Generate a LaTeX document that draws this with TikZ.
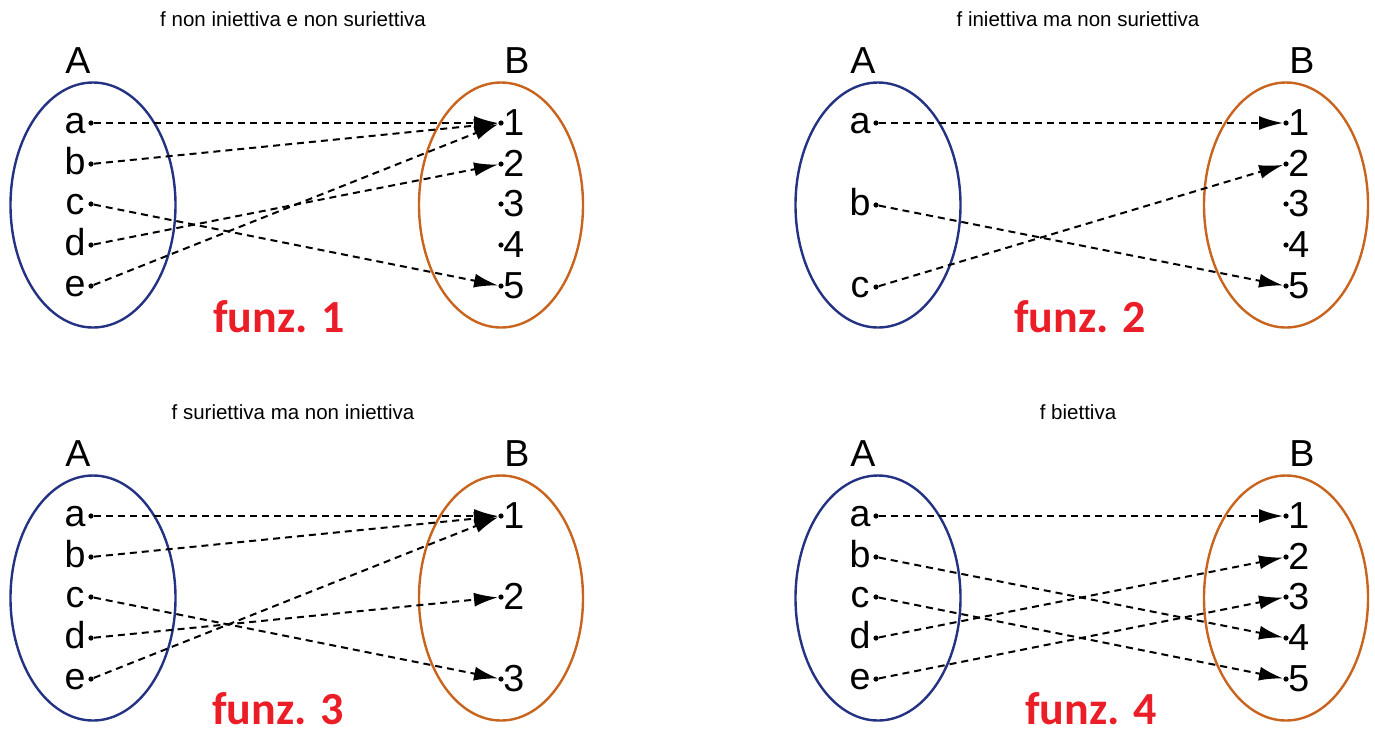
\documentclass[tikz,border=0pt]{standalone}
\usepackage{fontspec}
\setmainfont{Liberation Sans}
\newfontfamily\funzfont{Carlito}
\usetikzlibrary{arrows.meta,shapes.geometric}

\definecolor{setblue}{RGB}{35,50,130}
\definecolor{setorange}{RGB}{200,100,30}
\definecolor{funzred}{RGB}{235,30,40}

% one pixel of the drawing = 0.5pt, y grows downwards
\tikzset{
  x=0.5pt, y=-0.5pt,
  heading/.style={anchor=base, inner sep=0pt, font=\fontsize{10.25}{12}\selectfont},
  setname/.style={anchor=base, inner sep=0pt, font=\fontsize{18.8}{22}\selectfont},
  elem/.style={anchor=base, inner sep=0pt, font=\fontsize{18.8}{22}\selectfont},
  funz/.style={anchor=base, inner sep=0pt, text=funzred, font=\funzfont\bfseries\fontsize{23}{27}\selectfont},
  dot/.style={circle, fill=black, inner sep=0pt, minimum size=2.6pt},
  setA/.style={ellipse, draw=setblue, line width=1.2pt, inner sep=0pt,
               minimum width=82.5pt, minimum height=122.5pt},
  setB/.style={ellipse, draw=setorange, line width=1.2pt, inner sep=0pt,
               minimum width=82pt, minimum height=122.5pt},
  map/.style={dashed, dash pattern=on 3.5pt off 2.5pt, line width=1pt,
              -{Latex[length=12pt,width=7pt]}},
}

% element of the domain: dot name, letter, y of the dot
\newcommand\domel[3]{%
  \node[dot] (#1) at (91,#3) {};
  \node[elem, anchor=base] (#1-t) at (75,#3+10) {#2};
}
% element of the codomain: dot name, digit, y of the dot
\newcommand\codel[3]{%
  \node[dot] (#1) at (501,#3) {};
  \node[elem, anchor=base west] (#1-t) at (503,#3+12) {#2};
}
% the two sets of one panel: prefix, title
\newcommand\twosets[2]{%
  \node[heading] (#1-title) at (293,26) {#2};
  \node[setname] (#1-A) at (78,73) {A};
  \node[setname] (#1-B) at (517,73) {B};
  \node[setA] (#1-SA) at (93,205) {};
  \node[setB] (#1-SB) at (501,205) {};
}

\begin{document}
\begin{tikzpicture}
\useasboundingbox (0,0) rectangle (1375,735);

% ---- funz. 1 ----
\begin{scope}
  \twosets{p1}{f non iniettiva e non suriettiva}
  \domel{p1a}{a}{123} \domel{p1b}{b}{164} \domel{p1c}{c}{204}
  \domel{p1d}{d}{245} \domel{p1e}{e}{286}
  \codel{p1n1}{1}{123} \codel{p1n2}{2}{164} \codel{p1n3}{3}{204}
  \codel{p1n4}{4}{245} \codel{p1n5}{5}{286}
  \node[funz] (p1-label) at (279,332) {funz. 1};
  \draw[map] (p1a) -- (p1n1);
  \draw[map] (p1b) -- (p1n1);
  \draw[map] (p1c) -- (p1n5);
  \draw[map] (p1d) -- (p1n2);
  \draw[map] (p1e) -- (p1n1);
\end{scope}

% ---- funz. 2 ----
\begin{scope}[shift={(785,0)}]
  \twosets{p2}{f iniettiva ma non suriettiva}
  \domel{p2a}{a}{123} \domel{p2b}{b}{205} \domel{p2c}{c}{287}
  \codel{p2n1}{1}{123} \codel{p2n2}{2}{164} \codel{p2n3}{3}{204}
  \codel{p2n4}{4}{245} \codel{p2n5}{5}{286}
  \node[funz] (p2-label) at (295,332) {funz. 2};
  \draw[map] (p2a) -- (p2n1);
  \draw[map] (p2b) -- (p2n5);
  \draw[map] (p2c) -- (p2n2);
\end{scope}

% ---- funz. 3 ----
\begin{scope}[shift={(0,393)}]
  \twosets{p3}{f suriettiva ma non iniettiva}
  \domel{p3a}{a}{123} \domel{p3b}{b}{164} \domel{p3c}{c}{204}
  \domel{p3d}{d}{245} \domel{p3e}{e}{286}
  \codel{p3n1}{1}{123} \codel{p3n2}{2}{204} \codel{p3n3}{3}{286}
  \node[funz] (p3-label) at (278,331) {funz. 3};
  \draw[map] (p3a) -- (p3n1);
  \draw[map] (p3b) -- (p3n1);
  \draw[map] (p3c) -- (p3n3);
  \draw[map] (p3d) -- (p3n2);
  \draw[map] (p3e) -- (p3n1);
\end{scope}

% ---- funz. 4 ----
\begin{scope}[shift={(785,393)}]
  \twosets{p4}{f biettiva}
  \domel{p4a}{a}{123} \domel{p4b}{b}{164} \domel{p4c}{c}{204}
  \domel{p4d}{d}{245} \domel{p4e}{e}{286}
  \codel{p4n1}{1}{123} \codel{p4n2}{2}{164} \codel{p4n3}{3}{204}
  \codel{p4n4}{4}{245} \codel{p4n5}{5}{286}
  \node[funz] (p4-label) at (306,331) {funz. 4};
  \draw[map] (p4a) -- (p4n1);
  \draw[map] (p4b) -- (p4n4);
  \draw[map] (p4c) -- (p4n5);
  \draw[map] (p4d) -- (p4n2);
  \draw[map] (p4e) -- (p4n3);
\end{scope}
\end{tikzpicture}
\end{document}
